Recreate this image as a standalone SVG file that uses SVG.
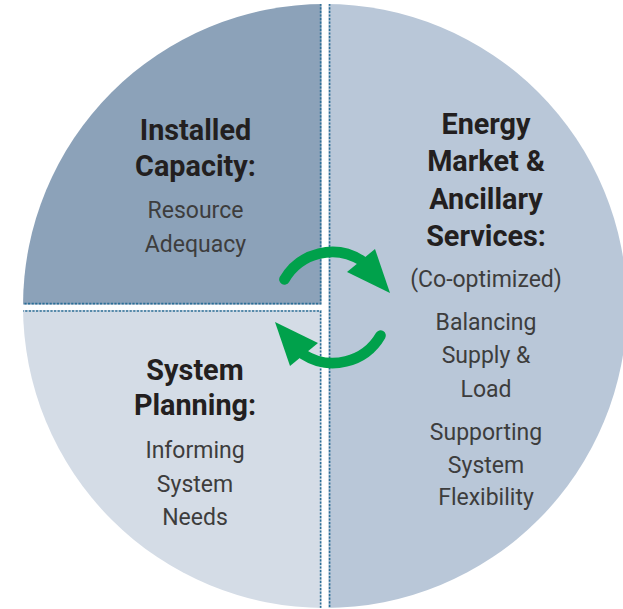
<svg xmlns="http://www.w3.org/2000/svg" xmlns:xlink="http://www.w3.org/1999/xlink" width="623" height="609" viewBox="0 0 623 609">
<style>
.h{font-family:Roboto,"Liberation Sans",sans-serif;font-weight:700;font-size:28.8px;fill:#231f20;text-anchor:middle}
.t{font-family:Roboto,"Liberation Sans",sans-serif;font-weight:400;font-size:23px;fill:#3d3d3d;text-anchor:middle}
.dot{stroke:#2c6f97;stroke-width:1.6;stroke-dasharray:2.2 1.4;fill:none}
</style>
<defs>
<clipPath id="c"><circle cx="325" cy="306" r="302"/></clipPath>
<g id="arr">
<path d="M 284.4 279.5 A 55 55 0 0 1 361.7 260.7" fill="none" stroke="#00a14b" stroke-width="10.5" stroke-linecap="round"/>
<polygon points="375,249 390,293 347,272" fill="#00a14b"/>
</g>
</defs>
<rect width="623" height="609" fill="#fff"/>
<g clip-path="url(#c)">
<g id="installed-capacity">
<rect x="0" y="0" width="321.5" height="304.5" fill="#8ca2b9"/>
<path class="dot" d="M320.6 0V303.6H0"/>
</g>
<g id="system-planning">
<rect x="0" y="310" width="321.5" height="300" fill="#d4dce6"/>
<path class="dot" d="M0 311H320.6V609"/>
</g>
<g id="energy-market">
<rect x="328.5" y="0" width="300" height="609" fill="#b9c7d8"/>
<path class="dot" d="M329.6 0V609"/>
</g>
</g>
<g id="label-installed">
<text class="h" x="195.5" y="140">Installed</text>
<text class="h" x="195.5" y="176">Capacity:</text>
<text class="t" x="195.5" y="218">Resource</text>
<text class="t" x="195.5" y="252">Adequacy</text>
</g>
<g id="label-planning">
<text class="h" x="195" y="380">System</text>
<text class="h" x="195" y="415">Planning:</text>
<text class="t" x="195" y="458">Informing</text>
<text class="t" x="195" y="492">System</text>
<text class="t" x="195" y="525">Needs</text>
</g>
<g id="label-energy">
<text class="h" x="486" y="134">Energy</text>
<text class="h" x="486" y="171">Market &amp;</text>
<text class="h" x="486" y="209">Ancillary</text>
<text class="h" x="486" y="246">Services:</text>
<text class="t" x="486" y="287">(Co-optimized)</text>
<text class="t" x="486" y="330">Balancing</text>
<text class="t" x="486" y="363">Supply &amp;</text>
<text class="t" x="486" y="397">Load</text>
<text class="t" x="486" y="440">Supporting</text>
<text class="t" x="486" y="473">System</text>
<text class="t" x="486" y="505">Flexibility</text>
</g>
<g id="connectors">
<use xlink:href="#arr"/>
<use xlink:href="#arr" transform="rotate(180 332.5 307.5)"/>
</g>
</svg>
